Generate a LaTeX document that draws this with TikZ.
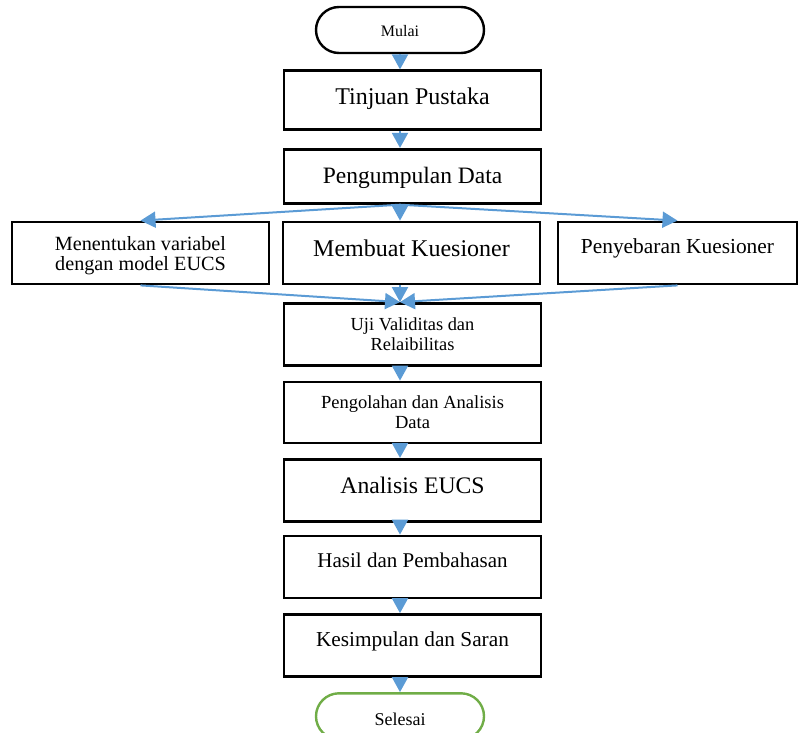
\documentclass[tikz,border=0pt]{standalone}
\usepackage{fontspec}
\setmainfont{Liberation Serif}
\usetikzlibrary{arrows.meta}

\definecolor{panah}{HTML}{5B9BD5}
\definecolor{hijau}{HTML}{70AD47}

\tikzset{
  kotak/.style={draw, line width=2.8pt, minimum width=257pt, align=center, inner sep=0pt},
  terminal/.style={draw, line width=2.4pt, rounded corners=23pt, minimum width=168pt, minimum height=46pt, inner sep=0pt},
  dasar/.style={text height=20pt, text depth=#1},
  panahbiru/.style={draw=panah, line width=2pt, -{Triangle[width=16pt,length=15pt]}, panah}
}

\begin{document}
\begin{tikzpicture}[x=1pt,y=-1pt]
% Batas gambar
\path[use as bounding box, clip] (0,0) rectangle (804,733);

% Terminal awal
\node[terminal, dasar=6pt, font=\fontsize{16}{18}\selectfont] (mulai) at (400,30) {Mulai};

% Tahapan atas
\node[kotak, dasar=10.6pt, minimum height=59pt, font=\fontsize{24}{26}\selectfont] (tinjuan) at (412.5,100.3) {Tinjuan Pustaka};
\node[kotak, dasar=6pt, minimum height=54pt, font=\fontsize{23.5}{26}\selectfont] (kumpul) at (412.5,176.3) {Pengumpulan Data};

% Tiga kegiatan sejajar
\node[kotak, minimum height=62pt, font=\fontsize{20.2}{19.8}\selectfont] (variabel) at (140.5,253)
  {\rule{0pt}{20pt}Menentukan variabel\\dengan model EUCS};
\node[kotak, dasar=14pt, minimum height=62pt, font=\fontsize{24}{26}\selectfont] (kuesioner) at (411.5,253) {Membuat Kuesioner};
\node[kotak, dasar=18pt, minimum width=239pt, minimum height=62pt, font=\fontsize{21.4}{23}\selectfont] (sebar) at (677.5,253)
  {Penyebaran Kuesioner};

% Tahapan bawah
\node[kotak, minimum height=62pt, font=\fontsize{18.4}{20}\selectfont] (uji) at (412.5,334.5)
  {Uji Validitas dan\\Relaibilitas};
\node[kotak, minimum height=61pt, font=\fontsize{18.5}{20}\selectfont] (olah) at (412.5,412.5)
  {Pengolahan dan Analisis\\Data};
\node[kotak, dasar=14pt, minimum height=62pt, font=\fontsize{23.7}{26}\selectfont] (eucs) at (412.5,490.3) {Analisis EUCS};
\node[kotak, dasar=20pt, minimum height=62pt, font=\fontsize{21}{23}\selectfont] (hasil) at (412.5,567) {Hasil dan Pembahasan};
\node[kotak, dasar=19pt, minimum height=62pt, font=\fontsize{21.3}{23}\selectfont] (simpul) at (412.5,645.5) {Kesimpulan dan Saran};

% Terminal akhir (terpotong di tepi bawah)
\node[terminal, draw=hijau, dasar=2.6pt, font=\fontsize{18}{20}\selectfont] (selesai) at (400,716.3) {Selesai};

% Titik cabang dan titik gabung
\coordinate (cabang) at (kumpul.south -| mulai);
\coordinate (gabung) at (uji.north -| mulai);

% Panah lurus
\draw[panahbiru] (mulai) -- (tinjuan.north -| mulai);
\draw[panahbiru] (tinjuan.south -| mulai) -- (kumpul.north -| mulai);
\draw[panahbiru] (cabang) -- (variabel.north);
\draw[panahbiru] (cabang) -- (kuesioner.north -| mulai);
\draw[panahbiru] (cabang) -- (sebar.north);
\draw[panahbiru] (variabel.south) -- (gabung);
\draw[panahbiru] (kuesioner.south -| mulai) -- (gabung);
\draw[panahbiru] (sebar.south) -- (gabung);
\draw[panahbiru] (uji.south -| mulai) -- (olah.north -| mulai);
\draw[panahbiru] (olah.south -| mulai) -- (eucs.north -| mulai);
\draw[panahbiru] (eucs.south -| mulai) -- (hasil.north -| mulai);
\draw[panahbiru] (hasil.south -| mulai) -- (simpul.north -| mulai);
\draw[panahbiru] (simpul.south -| mulai) -- (selesai);
\end{tikzpicture}
\end{document}
